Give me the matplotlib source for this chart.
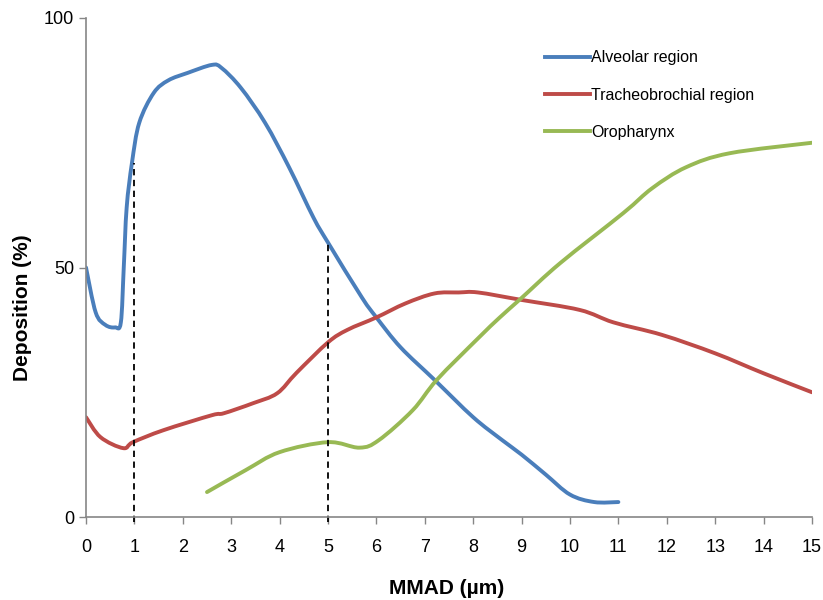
import matplotlib
matplotlib.use("Agg")
import matplotlib.pyplot as plt
from matplotlib.path import Path
from matplotlib.patches import PathPatch

# Data
mmad_alv = [0, 0.2, 0.4, 0.6, 0.72, 0.78, 0.84, 0.95, 1.1, 1.4, 1.7, 2.1, 2.6, 2.8,
            3.2, 3.7, 4.2, 4.7, 5.0, 5.7, 6.0, 6.5, 7.2, 8.0, 8.6, 9.0, 9.5, 10.0, 10.5, 11.0]
alveolar = [50, 41, 38.5, 38, 39, 50, 62, 71, 79, 85, 87.5, 89, 90.6, 90,
            86, 79, 70, 60, 55, 44, 40, 34, 27.5, 20, 15.4, 12.5, 8.5, 4.5, 3, 3]

mmad_tb = [0, 0.3, 0.77, 0.97, 1.6, 2.6, 2.85, 3.45, 3.95, 4.35, 5.0, 5.4, 6.0, 6.6,
           7.2, 7.7, 8.1, 9.0, 10.2, 10.9, 11.9, 13.0, 14.0, 15.0]
tracheo = [20, 16, 13.8, 15, 17.4, 20.4, 20.8, 22.8, 24.8, 28.9, 35, 37.5, 40, 42.8,
           44.8, 45, 45, 43.5, 41.5, 39, 36.5, 32.8, 28.8, 25]

mmad_oro = [2.5, 3.3, 4.0, 5.0, 5.65, 6.05, 6.75, 7.25, 8.1, 8.55, 9.0, 9.8, 11.1,
            11.7, 12.4, 13.3, 15.0]
oro = [5, 9.4, 13, 15, 13.9, 15.4, 21.4, 27.5, 35.8, 40, 43.9, 50.9, 60.9,
       65.9, 70.1, 72.9, 75]

marker_x = [1, 5]
marker_top = [71, 55]

series = [
    ("Alveolar region", mmad_alv, alveolar, "#4A7EBB"),
    ("Tracheobrochial region", mmad_tb, tracheo, "#BE4B48"),
    ("Oropharynx", mmad_oro, oro, "#98B954"),
]


def smooth_path(xs, ys):
    # Excel-style smoothed line: cubic Bezier segments through every point
    pts = list(zip(xs, ys))
    verts = [pts[0]]
    codes = [Path.MOVETO]
    n = len(pts)
    for i in range(n - 1):
        p0 = pts[i - 1] if i > 0 else pts[i]
        p1 = pts[i]
        p2 = pts[i + 1]
        p3 = pts[i + 2] if i + 2 < n else pts[i + 1]
        c1 = (p1[0] + (p2[0] - p0[0]) / 6, p1[1] + (p2[1] - p0[1]) / 6)
        c2 = (p2[0] - (p3[0] - p1[0]) / 6, p2[1] - (p3[1] - p1[1]) / 6)
        verts += [c1, c2, p2]
        codes += [Path.CURVE4] * 3
    return Path(verts, codes)


plt.rcParams['font.family'] = ['Liberation Sans', 'DejaVu Sans']

fig = plt.figure(figsize=(8.23, 6.0), dpi=100)
ax = fig.add_axes([0.1045, 0.1383, 0.8821, 0.8317])

for label, xs, ys, color in series:
    ax.add_patch(PathPatch(smooth_path(xs, ys), facecolor="none", edgecolor=color,
                           lw=2.8, capstyle="round", joinstyle="round"))
    ax.plot([], [], color=color, lw=2.8, label=label)

for xv, top in zip(marker_x, marker_top):
    ax.plot([xv, xv], [-1, top], color="black", lw=1.3, ls=(0, (3.5, 2.5)),
            clip_on=False)

ax.set_xlim(0, 15)
ax.set_ylim(0, 100)
ax.set_xticks(range(0, 16))
ax.set_yticks([0, 50, 100])

for s in ["top", "right"]:
    ax.spines[s].set_visible(False)
for s in ["left", "bottom"]:
    ax.spines[s].set_color("#868686")
    ax.spines[s].set_linewidth(1.2)
ax.tick_params(axis="both", color="#868686", length=5, width=1, direction="out",
               labelsize=13)
ax.tick_params(axis="x", pad=11)

fig.text(447 / 823, 1 - 588 / 600, "MMAD (µm)", fontsize=15, fontweight="bold",
         ha="center", va="center")
fig.text(23 / 823, 1 - 308 / 600, "Deposition (%)", fontsize=15, fontweight="bold",
         ha="center", va="center", rotation=90)

ax.legend(loc="upper left", bbox_to_anchor=(0.613, 0.964), frameon=False,
          fontsize=11.5, handlelength=2.8, handletextpad=0.05, labelspacing=1.4)

fig.savefig("out.png", dpi=100)
